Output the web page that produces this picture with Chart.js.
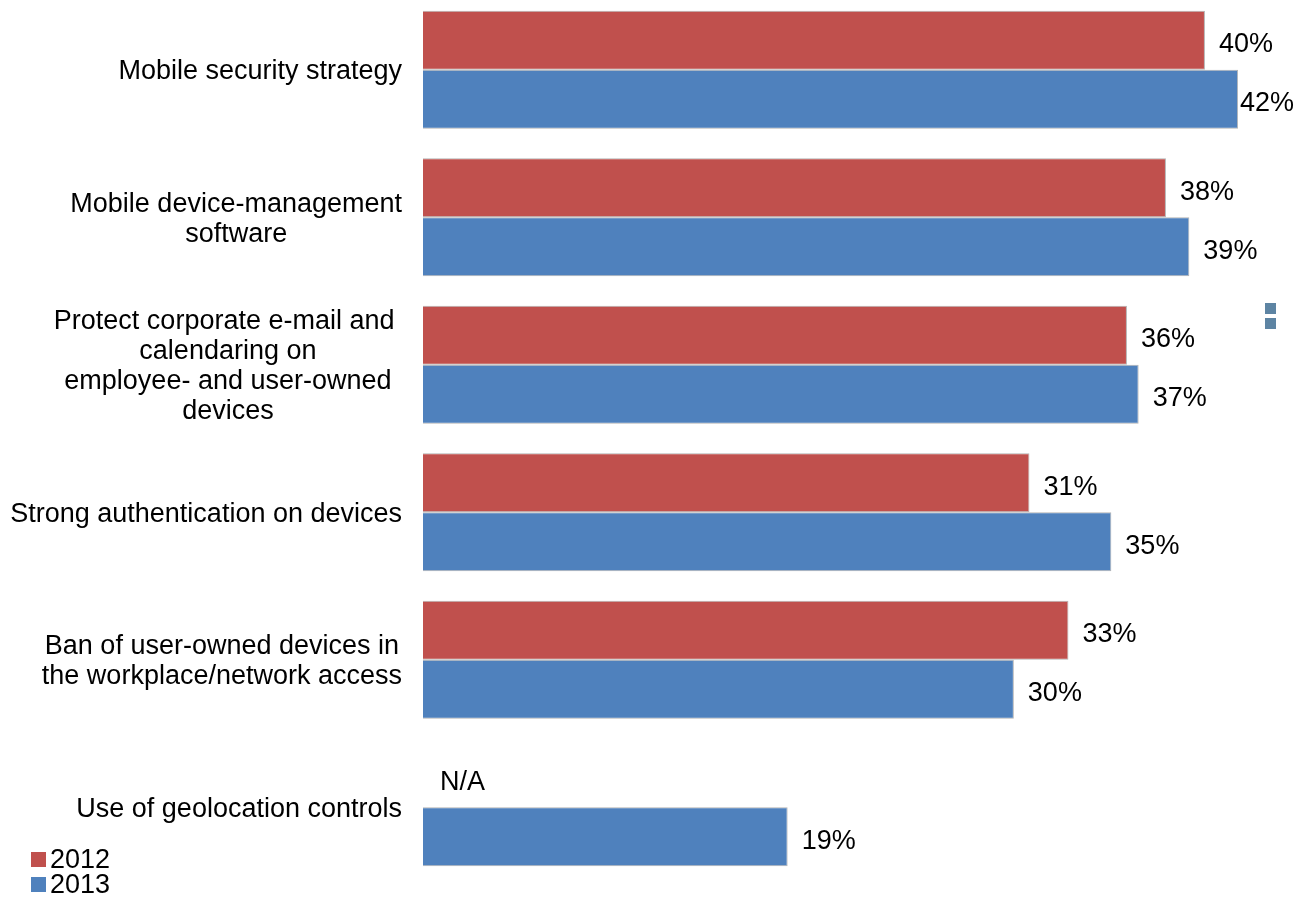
<!DOCTYPE html>
<html>
<head>
<meta charset="utf-8">
<script src="https://cdn.jsdelivr.net/npm/chart.js@4"></script>
<style>
    html, body { margin: 0; padding: 0; background: #fff; overflow: hidden; }
    #wrap { position: absolute; left: 0; top: -4px; width: 1295px; height: 903px; }
</style>
</head>
<body>
<div id="wrap"><canvas id="chart"></canvas></div>
<script>
const categories = [
    ["Mobile security strategy"],
    ["Mobile device-management", "software"],
    ["Protect corporate e-mail and ", "calendaring on", "employee- and user-owned", "devices"],
    ["Strong authentication on devices"],
    ["Ban of user-owned devices in", "the workplace/network access"],
    ["Use of geolocation controls"]
];
const seriesNames = ["2012", "2013"];
const values2012 = [40.1, 38.1, 36.1, 31.1, 33.1, null];
const values2013 = [41.8, 39.3, 36.7, 35.3, 30.3, 18.7];

const RED = "#C0504D";
const BLUE = "#4F81BD";
const FONT = "27px 'Liberation Sans', Arial, sans-serif";

// category labels: right-aligned block, lines centred inside it
const categoryLabels = {
    id: "categoryLabels",
    afterDraw(chart) {
        const ctx = chart.ctx;
        const yScale = chart.scales.y;
        const right = chart.chartArea.left - 21;
        ctx.save();
        ctx.font = FONT;
        ctx.fillStyle = "#000";
        ctx.textBaseline = "alphabetic";
        ctx.textAlign = "center";
        categories.forEach((lines, i) => {
            const widest = Math.max(...lines.map(l => ctx.measureText(l).width));
            const cx = right - widest / 2;
            const cy = yScale.getPixelForValue(i);
            lines.forEach((line, j) => {
                ctx.fillText(line, cx, cy + 9.5 + (j - (lines.length - 1) / 2) * 30);
            });
        });
        ctx.restore();
    }
};

const valueLabels = {
    id: "valueLabels",
    afterDatasetsDraw(chart) {
        const ctx = chart.ctx;
        ctx.save();
        ctx.font = FONT;
        ctx.fillStyle = "#000";
        ctx.textBaseline = "alphabetic";
        ctx.textAlign = "left";
        chart.data.datasets.forEach((ds, di) => {
            const meta = chart.getDatasetMeta(di);
            meta.data.forEach((bar, i) => {
                const v = ds.data[i];
                if (v === null) {
                    ctx.fillText("N/A", chart.chartArea.left + 17, bar.y + 12);
                    return;
                }
                const text = Math.round(v) + "%";
                const w = ctx.measureText(text).width;
                let x = bar.x + 14;
                if (x + w > chart.width - 1) x = chart.width - 1 - w;
                ctx.fillText(text, x, bar.y + 12);
            });
        });
        ctx.restore();
    }
};

const legendBox = {
    id: "legendBox",
    afterDraw(chart) {
        const ctx = chart.ctx;
        const colors = [RED, BLUE];
        ctx.save();
        ctx.font = FONT;
        ctx.textBaseline = "alphabetic";
        seriesNames.forEach((name, i) => {
            const top = 856 + i * 25;
            ctx.fillStyle = colors[i];
            ctx.fillRect(31, top, 15, 15);
            ctx.fillStyle = "#000";
            ctx.fillText(name, 50, top + 16);
        });
        // leftover legend markers at the right edge
        ctx.fillStyle = "#5d84a3";
        ctx.fillRect(1265, 307, 11, 11);
        ctx.fillRect(1265, 322, 11, 11);
        ctx.restore();
    }
};

function displayChart() {
    const chartElement = document.getElementById("chart");
    const data = {
        labels: categories,
        datasets: [
            { label: seriesNames[0], data: values2012, backgroundColor: RED },
            { label: seriesNames[1], data: values2013, backgroundColor: BLUE }
        ]
    };
    const config = {
        type: "bar",
        data: data,
        options: {
            indexAxis: "y",
            responsive: true,
            maintainAspectRatio: false,
            animation: false,
            layout: { padding: { left: 423, right: 14, top: 0, bottom: 18 } },
            datasets: {
                bar: {
                    categoryPercentage: 0.8,
                    barPercentage: 1.0,
                    borderWidth: 1,
                    borderColor: "#b4b4b4"
                }
            },
            scales: {
                x: { display: false, min: 0, max: 44 },
                y: { display: false }
            },
            plugins: {
                legend: { display: false },
                tooltip: { enabled: false }
            }
        },
        plugins: [categoryLabels, valueLabels, legendBox]
    };
    new Chart(chartElement, config);
}
displayChart();
</script>
</body>
</html>
